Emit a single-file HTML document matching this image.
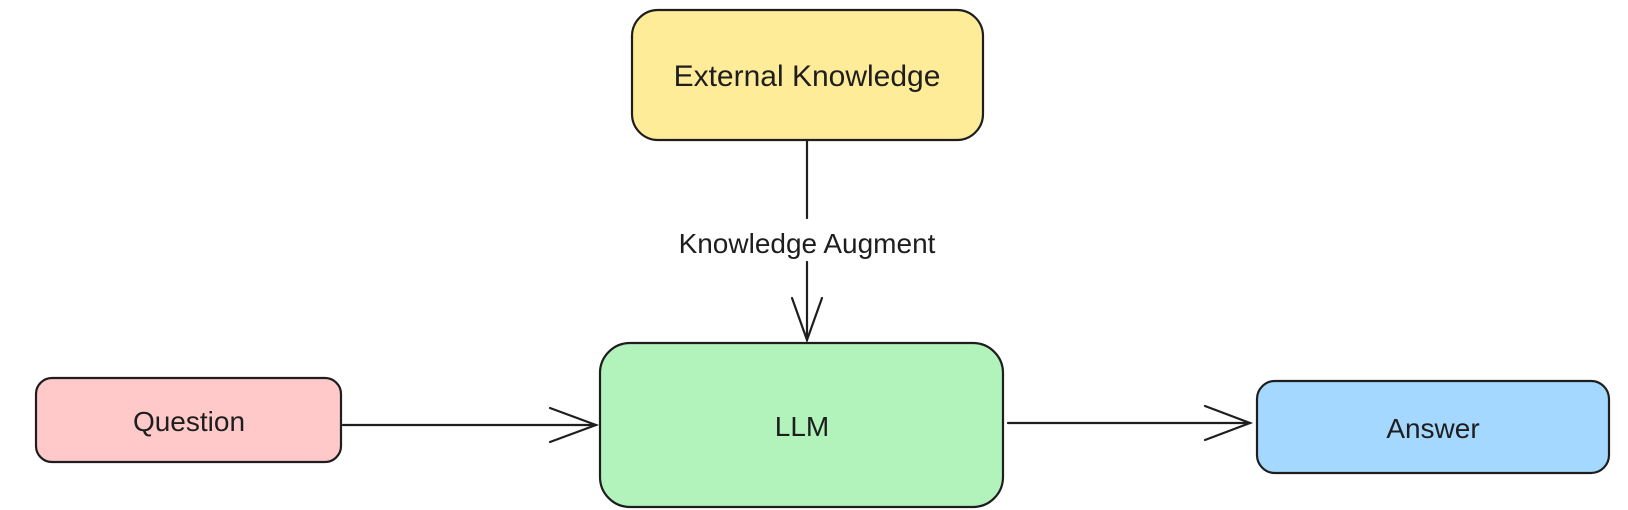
<!DOCTYPE html>
<html><head><meta charset="utf-8"><style>
html,body{margin:0;padding:0;background:#fff;}
svg{display:block;}
text{font-family:"Liberation Sans",sans-serif;fill:#1e1e1e;}
</style></head><body>
<svg width="1628" height="510" viewBox="0 0 1628 510" xmlns="http://www.w3.org/2000/svg">
<g stroke="#1e1e1e" stroke-width="2.2" fill="none" stroke-linecap="round">
<rect x="632" y="10" width="351" height="130" rx="26" fill="#ffec99"/>
<rect x="36" y="378" width="305" height="84" rx="16" fill="#ffc9c9"/>
<rect x="600" y="343" width="403" height="164" rx="30" fill="#b2f2bb"/>
<rect x="1257" y="381" width="352" height="92" rx="18" fill="#a5d8ff"/>
<line x1="807" y1="141" x2="807" y2="218"/>
<line x1="807" y1="262" x2="807" y2="340"/>
<polyline points="792,298 807,340 822,298"/>
<line x1="343" y1="425" x2="596" y2="425"/>
<polyline points="550,408 596,425 550,442"/>
<line x1="1008" y1="423" x2="1250" y2="423"/>
<polyline points="1205,406 1250,423 1205,440"/>
</g>
<text x="807" y="86" font-size="30" text-anchor="middle">External Knowledge</text>
<text x="807" y="253" font-size="28" text-anchor="middle">Knowledge Augment</text>
<text x="189" y="431" font-size="28" text-anchor="middle">Question</text>
<text x="802" y="436" font-size="28" text-anchor="middle">LLM</text>
<text x="1433" y="438" font-size="28" text-anchor="middle">Answer</text>
</svg>
</body></html>
